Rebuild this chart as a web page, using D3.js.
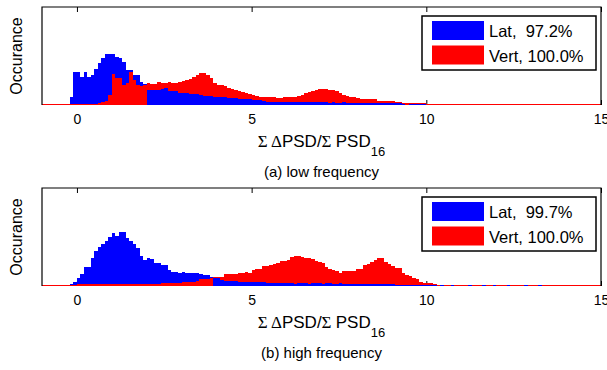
<!DOCTYPE html>
<html>
<head>
<meta charset="utf-8">
<script src="https://cdn.jsdelivr.net/npm/d3@7"></script>
<style>
body { margin: 0; background: #fff; }
svg { display: block; }
text { font-family: "Liberation Sans", Arial, sans-serif; fill: #000; }
</style>
</head>
<body>
<div id="chart"></div>
<script>
// histogram bins of width 0.1, first bin starts at -1.0 (one row = one unit)
var binStart = -1.0;
var binWidth = 0.1;

var latLow = [
	0, 0, 0, 0, 0, 0, 0, 0, 8, 33,
	33, 28, 33, 28, 30, 36, 42, 47, 51, 51,
	51, 48, 47, 43, 35, 35, 30, 30, 23, 21,
	15, 15, 15, 15, 16, 17, 14, 14, 14, 12,
	12, 12, 11, 11, 11, 10, 9, 9, 9, 8,
	8, 8, 8, 7, 7, 7, 6, 6, 6, 6,
	5, 5, 5, 4, 3, 3, 3, 3, 3, 3,
	3, 3, 3, 3, 3, 3, 3, 3, 3, 3,
	3, 3, 2.5, 3, 2.5, 2.5, 3, 2.5, 2.5, 2.5,
	2, 2, 2, 2, 2, 2, 2, 2, 2, 2,
	2, 2, 2, 1.5, 2, 1.5, 1.5, 1.5, 1.5, 1,
	0.5, 0, 0, 0, 0, 0, 1.5, 1.5, 0, 1.5,
	1.5, 0, 1.5, 1.5, 0, 0, 0, 0, 0, 0,
	0, 0, 0, 0, 0, 0, 0, 0, 0, 0,
	0, 0, 0, 0, 0, 0, 0, 0, 0, 0,
	0, 0, 0, 0, 0, 0, 0, 0, 0, 0
];

var vertLow = [
	1, 1, 1, 1, 1, 1, 1, 1, 1.5, 1.5,
	1.5, 1.5, 1.5, 1.5, 1.5, 1.5, 2, 3, 4, 10,
	31, 27, 27, 20, 22, 33, 25, 20, 19, 20,
	22, 21, 21, 23, 22, 22, 23, 22, 22, 23,
	24, 25, 26, 28, 30, 32, 32, 30, 27, 22,
	20, 20, 19, 17, 16, 15, 14, 13, 12, 11,
	10, 9, 8, 8, 8, 8, 8, 7, 7, 8,
	8, 8, 8, 9, 10, 12, 13, 14, 15, 16,
	16, 16, 15, 15, 14, 12, 10, 9, 8, 8,
	7, 6, 6, 6, 6, 6, 4, 4, 4, 4,
	4, 3, 3, 2, 2, 2, 2, 2, 2, 2,
	1.5, 1, 1, 1, 1, 1, 1, 1, 1, 1,
	1, 1, 1, 1, 1, 1, 1, 1, 1, 1,
	1, 1, 1, 1, 1, 1, 1, 1, 1, 1,
	1, 1, 1, 1, 1, 1, 1, 1, 1, 1,
	1, 1, 1, 1, 1, 1, 1, 1, 1, 1
];

var latHigh = [
	0.5, 0.5, 0.5, 0.5, 0.5, 0.5, 0.5, 1.5, 2, 4,
	8, 12, 19, 19, 28, 35, 39, 42, 45, 49,
	53, 50, 54, 54, 48, 45, 42, 38, 30, 26,
	28, 27, 23, 23, 21, 21, 16, 14, 14, 13,
	14, 13, 13, 13, 13, 12, 11, 11, 9, 8,
	8, 6, 5.5, 5, 5, 5, 4.5, 4.5, 4.5, 4.5,
	4.3, 4, 4, 4, 3, 2.7, 2.7, 2.7, 2.7, 2.7,
	2.7, 2.7, 2.5, 2.7, 2.7, 2.7, 2.5, 2.7, 2.7, 2.7,
	2.5, 2.7, 2.7, 2.5, 2.5, 2.7, 2.5, 2.5, 2.5, 2.5,
	2.5, 2.5, 2.5, 2.5, 2.5, 2.5, 2.5, 2.5, 2.5, 2.5,
	2, 1.5, 1.5, 1, 1.5, 1.5, 1, 1.5, 1.5, 1.5,
	1.5, 1, 1.5, 1.5, 1, 1.5, 1.5, 1, 1.5, 1.5,
	1.5, 1.5, 1, 1.5, 1.5, 1.5, 1, 1.5, 1.5, 1,
	1.5, 1.5, 1.5, 1, 1.5, 1.5, 1.5, 1.5, 1, 1.5,
	1.5, 1.5, 1, 1.5, 1.5, 1.5, 1.5, 0, 1.5, 1.5
];

var vertHigh = [
	1, 1, 1, 1, 1, 1, 1, 1, 1, 1,
	1.7, 1.7, 1.7, 1.7, 1.7, 1.7, 1.7, 1.7, 1.7, 1.7,
	1.7, 1.7, 1.7, 1.7, 1.7, 1.7, 1.7, 1.7, 1.7, 1.7,
	2, 2, 2, 2, 3.5, 3.5, 3.5, 3.5, 3.5, 3.5,
	4.3, 4.3, 4.3, 4.3, 5.3, 6.7, 6.7, 6.7, 8, 9,
	9, 9, 12, 12, 12, 12, 13, 13, 14, 13,
	16, 17, 17, 20, 20, 21, 22, 23, 25, 25,
	26, 29, 30, 30, 29, 28, 28, 27, 25, 24,
	23, 19, 17, 16, 15, 13, 15, 15, 15, 15,
	17, 17, 21, 22, 24, 26, 28, 28, 24, 22,
	20, 18, 18, 13, 11, 10, 8, 7, 4, 3,
	3, 2.7, 2.5, 1.5, 1.5, 1.5, 1.5, 1.5, 1.5, 1.5,
	1.5, 1.5, 1.5, 1.5, 1.5, 1.5, 1.5, 1.5, 1.5, 1.5,
	1.5, 1.5, 1.5, 1.5, 1.5, 1.5, 1.5, 1.5, 1.5, 1.5,
	1.5, 1.5, 1.5, 1.5, 1.5, 1.5, 1.5, 1.5, 1.5, 1.5,
	1.5, 1.5, 1.5, 1.5, 1.5, 1.5, 1.5, 1.5, 1.5, 1.5
];

var xTicks = [0, 5, 10, 15];
var panels = [
	{lat: latLow, vert: vertLow, latText: "Lat,  97.2%", vertText: "Vert, 100.0%", caption: "(a) low frequency", top: 7},
	{lat: latHigh, vert: vertHigh, latText: "Lat,  99.7%", vertText: "Vert, 100.0%", caption: "(b) high frequency", top: 188}
];

const W = 607, H = 370;
const left = 42, right = 601, plotH = 98;

const svg = d3.select("#chart").append("svg")
	.attr("width", W)
	.attr("height", H);

const x = d3.scaleLinear().domain([-1, 15]).range([left, right]);

panels.forEach(function(p) {
	const y = d3.scaleLinear().domain([0, 98]).range([p.top + plotH, p.top]);
	const g = svg.append("g");

	// axis ticks (inward) on bottom and top
	g.append("g")
		.attr("transform", "translate(0," + (p.top + plotH) + ")")
		.call(d3.axisBottom(x).tickValues(xTicks).tickSizeInner(-5).tickSizeOuter(0).tickPadding(9))
		.call(a => a.select(".domain").remove())
		.call(a => a.selectAll("text").style("font-size", "14px").attr("font-family", null));
	g.append("g")
		.attr("transform", "translate(0," + p.top + ")")
		.call(d3.axisTop(x).tickValues(xTicks).tickSizeInner(-5).tickSizeOuter(0).tickFormat(""))
		.call(a => a.select(".domain").remove());
	g.selectAll(".tick line").attr("stroke", "#000");

	// bars: at each bin the taller one first so the shorter stays visible
	var bars = [];
	p.lat.forEach(function(v, i) { bars.push({i: i, v: v, c: "#0000ff"}); });
	p.vert.forEach(function(v, i) { bars.push({i: i, v: v, c: "#ff0000"}); });
	bars.sort(function(a, b) { return b.v - a.v; });

	g.append("g").selectAll("rect")
		.data(bars.filter(d => d.v > 0))
		.enter()
		.append("rect")
		.attr("x", d => x(binStart + d.i * binWidth))
		.attr("width", d => x(binStart + (d.i + 1) * binWidth) - x(binStart + d.i * binWidth))
		.attr("y", d => y(d.v))
		.attr("height", d => y(0) - y(d.v))
		.attr("fill", d => d.c)
		.attr("shape-rendering", "crispEdges");

	// frame
	g.append("path")
		.attr("d", "M" + left + "," + (p.top + plotH) + "V" + p.top + "H" + right + "V" + (p.top + plotH))
		.attr("fill", "none")
		.attr("stroke", "#000")
		.attr("stroke-width", 1.2);

	// y label
	g.append("text")
		.attr("transform", "translate(22," + (p.top + plotH / 2) + ") rotate(-90)")
		.attr("text-anchor", "middle")
		.style("font-size", "16px")
		.text("Occurance");

	// x label
	const xl = g.append("text")
		.attr("x", (left + right) / 2)
		.attr("y", p.top + plotH + 42)
		.attr("text-anchor", "middle")
		.style("font-size", "17px");
	xl.append("tspan").style("font-family", "Liberation Serif").text("Σ Δ");
	xl.append("tspan").text("PSD/");
	xl.append("tspan").style("font-family", "Liberation Serif").text("Σ ");
	xl.append("tspan").text("PSD");
	xl.append("tspan").attr("dy", 9).style("font-size", "13px").text("16");

	// caption
	g.append("text")
		.attr("x", (left + right) / 2)
		.attr("y", p.top + plotH + 72)
		.attr("text-anchor", "middle")
		.style("font-size", "15px")
		.text(p.caption);

	// legend
	const lg = g.append("g").attr("transform", "translate(422," + (p.top + 9) + ")");
	lg.append("rect")
		.attr("width", 174).attr("height", 54)
		.attr("fill", "#fff").attr("stroke", "#000").attr("stroke-width", 1.5);
	[[p.lat, "#0000ff", p.latText], [p.vert, "#ff0000", p.vertText]].forEach(function(e, k) {
		lg.append("rect")
			.attr("x", 10).attr("y", 5 + k * 24.5)
			.attr("width", 52).attr("height", 19)
			.attr("fill", e[1]);
		lg.append("text")
			.attr("x", 67).attr("y", 21 + k * 24.5)
			.style("font-size", "16.5px")
			.style("white-space", "pre")
			.attr("xml:space", "preserve")
			.text(e[2]);
	});
});
</script>
</body>
</html>
